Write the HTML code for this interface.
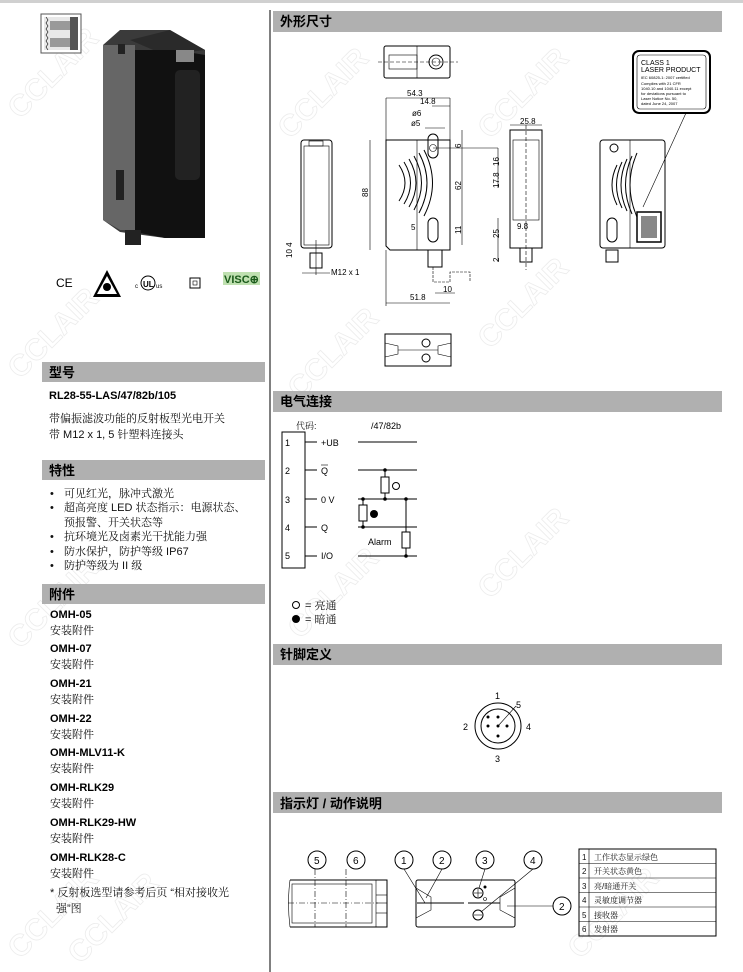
<!DOCTYPE html>
<html><head><meta charset="utf-8"><style>
html,body{margin:0;padding:0;background:#fff;}
svg{display:block;}
.h{font-family:"Liberation Sans","Noto Sans CJK SC",sans-serif;font-weight:bold;font-size:13px;fill:#000;}
.c{font-family:"Liberation Sans","Noto Serif CJK SC",serif;font-size:11px;fill:#111;}
.b{font-family:"Liberation Sans",sans-serif;font-weight:bold;font-size:11px;fill:#000;}
.s{font-family:"Liberation Sans",sans-serif;font-size:8px;fill:#000;}
.t{font-family:"Liberation Sans",sans-serif;font-size:10px;fill:#000;}
.wm{font-family:"Liberation Sans",sans-serif;font-size:30px;font-weight:bold;fill:none;stroke:#ececec;stroke-width:0.8;}
.ln{stroke:#000;fill:none;stroke-width:1;}
.th{stroke:#000;fill:none;stroke-width:0.6;}
</style></head><body>
<svg width="743" height="972" viewBox="0 0 743 972" xmlns="http://www.w3.org/2000/svg">
<rect x="0" y="0" width="743" height="3" fill="#d0d0d0"/>
<line x1="270" y1="10" x2="270" y2="972" stroke="#000" stroke-width="1"/>

<g>
<text class="wm" transform="translate(20,120) rotate(-45)">CCLAIR</text>
<text class="wm" transform="translate(20,380) rotate(-45)">CCLAIR</text>
<text class="wm" transform="translate(20,650) rotate(-45)">CCLAIR</text>
<text class="wm" transform="translate(20,960) rotate(-45)">CCLAIR</text>
<text class="wm" transform="translate(290,140) rotate(-45)">CCLAIR</text>
<text class="wm" transform="translate(300,400) rotate(-45)">CCLAIR</text>
<text class="wm" transform="translate(300,640) rotate(-45)">CCLAIR</text>
<text class="wm" transform="translate(490,140) rotate(-45)">CCLAIR</text>
<text class="wm" transform="translate(490,350) rotate(-45)">CCLAIR</text>
<text class="wm" transform="translate(490,600) rotate(-45)">CCLAIR</text>
<text class="wm" transform="translate(580,960) rotate(-45)">CCLAIR</text>
<text class="wm" transform="translate(80,965) rotate(-45)">CCLAIR</text>
</g>

<rect x="41" y="14" width="40" height="39" fill="#fff" stroke="#555" stroke-width="1"/>
<rect x="44" y="17" width="34" height="33" fill="#e8e8e8"/>
<rect x="70" y="17" width="8" height="33" fill="#555"/>
<rect x="50" y="21" width="20" height="9" fill="#999"/>
<rect x="50" y="38" width="20" height="9" fill="#999"/>
<polyline points="46,17 48,20 46,23 48,26 46,29 48,32 46,35 48,38 46,41 48,44 46,47 48,50" class="th"/>
<polygon points="103,45 120,30 170,30 205,50 205,238 165,238 120,232 103,220" fill="#3a3a3a"/>
<polygon points="103,45 135,45 135,230 120,230 103,220" fill="#666"/>
<polygon points="130,40 170,30 205,50 165,55" fill="#2a2a2a"/>
<polygon points="135,50 175,50 205,55 205,238 165,238 135,232" fill="#111"/>
<rect x="175" y="70" width="25" height="110" rx="5" fill="#222"/>
<rect x="176" y="50" width="18" height="12" fill="#888"/>
<rect x="116" y="170" width="8" height="30" fill="#222"/>
<rect x="118" y="44" width="7" height="10" fill="#222"/>
<rect x="125" y="230" width="16" height="15" fill="#222"/>
<text x="56" y="287" class="t" style="font-size:12px">CE</text>
<polygon points="107,270 93,297 121,297" fill="#000"/>
<polygon points="107,276 97,294 117,294" fill="#fff"/>
<circle cx="107" cy="287" r="4" fill="#000"/>
<text x="135" y="288" class="s" style="font-size:6px">c</text>
<circle cx="148" cy="283" r="7" fill="none" stroke="#000" stroke-width="1"/>
<text x="143" y="287" class="s" style="font-weight:bold">UL</text>
<text x="156" y="288" class="s" style="font-size:6px">us</text>
<rect x="190" y="278" width="10" height="10" class="ln"/>
<rect x="193" y="281" width="4" height="4" class="th"/>
<rect x="223" y="272" width="37" height="13" fill="#bfe0b0"/>
<text x="224" y="283" class="b" style="font-size:11px;fill:#1a5a1a">VISC⊕</text>

<rect x="42" y="362" width="223" height="20" fill="#b0b0b0"/>
<text x="49" y="377" class="h">型号</text>
<text x="49" y="399" class="b">RL28-55-LAS/47/82b/105</text>
<text x="49" y="422" class="c">带偏振滤波功能的反射板型光电开关</text>
<text x="49" y="438" class="c">带 M12 x 1, 5 针塑料连接头</text>

<rect x="42" y="460" width="223" height="20" fill="#b0b0b0"/>
<text x="49" y="475" class="h">特性</text>
<g class="c">
<text x="50" y="497">•</text><text x="64" y="497">可见红光，脉冲式激光</text>
<text x="50" y="511">•</text><text x="64" y="511">超高亮度 LED 状态指示：电源状态、</text>
<text x="64" y="526">预报警、开关状态等</text>
<text x="50" y="540">•</text><text x="64" y="540">抗环境光及卤素光干扰能力强</text>
<text x="50" y="555">•</text><text x="64" y="555">防水保护，防护等级 IP67</text>
<text x="50" y="569">•</text><text x="64" y="569">防护等级为 II 级</text>
</g>

<rect x="42" y="584" width="223" height="20" fill="#b0b0b0"/>
<text x="49" y="599" class="h">附件</text>
<g>
<text x="50" y="618" class="b">OMH-05</text><text x="50" y="634" class="c">安装附件</text>
<text x="50" y="652" class="b">OMH-07</text><text x="50" y="668" class="c">安装附件</text>
<text x="50" y="687" class="b">OMH-21</text><text x="50" y="703" class="c">安装附件</text>
<text x="50" y="722" class="b">OMH-22</text><text x="50" y="738" class="c">安装附件</text>
<text x="50" y="756" class="b">OMH-MLV11-K</text><text x="50" y="772" class="c">安装附件</text>
<text x="50" y="791" class="b">OMH-RLK29</text><text x="50" y="807" class="c">安装附件</text>
<text x="50" y="826" class="b">OMH-RLK29-HW</text><text x="50" y="842" class="c">安装附件</text>
<text x="50" y="861" class="b">OMH-RLK28-C</text><text x="50" y="877" class="c">安装附件</text>
<text x="50" y="896" class="c">* 反射板选型请参考后页 “相对接收光</text>
<text x="56" y="912" class="c">强”图</text>
</g>

<rect x="273" y="11" width="449" height="21" fill="#b0b0b0"/>
<text x="280" y="26" class="h">外形尺寸</text>

<rect x="384" y="46" width="66" height="32" rx="2" class="ln"/>
<line x1="417" y1="46" x2="417" y2="78" class="th"/>
<rect x="389" y="55" width="28" height="14" class="th"/>
<circle cx="436" cy="62" r="7" class="ln"/>
<circle cx="436" cy="62" r="4" class="th"/>
<line x1="378" y1="62" x2="458" y2="62" class="th" stroke-dasharray="4,2"/>

<path d="M386,140 H450 V250 H390 L386,246 Z" class="ln"/>
<line x1="417" y1="140" x2="417" y2="250" class="th"/>
<line x1="386" y1="98" x2="386" y2="140" class="th"/>
<line x1="450" y1="98" x2="450" y2="140" class="th"/>
<line x1="386" y1="98" x2="450" y2="98" class="th"/>
<text x="407" y="96" class="s">54.3</text>
<line x1="432" y1="106" x2="450" y2="106" class="th"/>
<text x="420" y="104" class="s">14.8</text>
<text x="412" y="116" class="s">ø6</text>
<text x="411" y="126" class="s">ø5</text>
<line x1="425" y1="128" x2="445" y2="128" class="th"/>
<rect x="428" y="134" width="10" height="24" rx="5" class="ln"/>
<circle cx="433" cy="148" r="3.5" class="th"/>
<rect x="428" y="218" width="10" height="24" rx="5" class="ln"/>
<path d="M399,165 q12,18 0,36 M404,162 q13,21 0,42 M409,159 q14,24 0,48 M414,156 q15,27 0,54 M419,153 q16,30 0,60 M424,150 q17,33 0,66" class="ln"/>
<line x1="370" y1="140" x2="370" y2="250" class="th"/>
<text x="368" y="197" class="s" transform="rotate(-90 368 197)">88</text>
<line x1="462" y1="130" x2="462" y2="245" class="th"/>
<text x="461" y="148" class="s" transform="rotate(-90 461 148)">6</text>
<text x="461" y="190" class="s" transform="rotate(-90 461 190)">62</text>
<text x="461" y="234" class="s" transform="rotate(-90 461 234)">11</text>
<line x1="433" y1="148" x2="498" y2="148" class="th"/>
<text x="411" y="230" class="s">5</text>
<rect x="428" y="250" width="14" height="17" class="ln"/>
<path d="M433,267 V282 H450 V272 H470 V282" class="th" stroke-dasharray="3,1"/>
<line x1="386" y1="250" x2="386" y2="306" class="th"/>
<line x1="386" y1="303" x2="450" y2="303" class="th"/>
<text x="410" y="300" class="s">51.8</text>
<line x1="435" y1="293" x2="455" y2="293" class="th"/>
<text x="443" y="292" class="s">10</text>

<rect x="301" y="140" width="31" height="108" rx="3" class="ln"/>
<rect x="304" y="146" width="25" height="99" class="th"/>
<rect x="309" y="141" width="14" height="5" class="th"/>
<rect x="310" y="253" width="12" height="15" class="ln"/>
<line x1="316" y1="240" x2="316" y2="275" class="th"/>
<text x="292" y="258" class="s" transform="rotate(-90 292 258)">10  4</text>
<line x1="302" y1="273" x2="330" y2="273" class="th"/>
<text x="331" y="275" class="s">M12 x 1</text>

<rect x="510" y="130" width="32" height="118" class="ln"/>
<rect x="513" y="140" width="26" height="80" class="th"/>
<line x1="526" y1="125" x2="526" y2="270" class="th" stroke-dasharray="4,2"/>
<line x1="510" y1="125" x2="542" y2="125" class="th"/>
<text x="520" y="124" class="s">25.8</text>
<rect x="520" y="248" width="12" height="14" class="ln"/>
<text x="517" y="229" class="s">9.8</text>
<text x="499" y="166" class="s" transform="rotate(-90 499 166)">16</text>
<text x="499" y="188" class="s" transform="rotate(-90 499 188)">17.8</text>
<text x="499" y="238" class="s" transform="rotate(-90 499 238)">25</text>
<text x="499" y="262" class="s" transform="rotate(-90 499 262)">2</text>
<line x1="498" y1="148" x2="498" y2="188" class="th"/>
<line x1="498" y1="218" x2="498" y2="262" class="th"/>

<rect x="600" y="140" width="65" height="108" rx="3" class="ln"/>
<line x1="630" y1="140" x2="630" y2="248" class="th"/>
<circle cx="614" cy="148" r="4" class="ln"/>
<path d="M617,165 q-10,20 0,40 M622,162 q-11,23 0,46 M627,159 q-12,26 0,52 M632,156 q-13,29 0,58 M637,153 q-14,32 0,64" class="ln"/>
<rect x="607" y="218" width="10" height="24" rx="5" class="ln"/>
<rect x="637" y="212" width="24" height="30" fill="#fff" stroke="#000" stroke-width="1.5"/>
<rect x="641" y="216" width="16" height="22" fill="#888"/>
<rect x="606" y="250" width="12" height="12" class="ln"/>
<line x1="643" y1="207" x2="686" y2="113" class="th"/>
<rect x="633" y="51" width="77" height="62" rx="6" fill="#fff" stroke="#000" stroke-width="2"/>
<rect x="637" y="55" width="69" height="54" rx="3" class="th"/>
<text x="641" y="65" class="s" style="font-size:7px">CLASS 1</text>
<text x="641" y="72" class="s" style="font-size:7px">LASER PRODUCT</text>
<text x="641" y="79" class="s" style="font-size:4px">IEC 60825-1: 2007 certified</text>
<text x="641" y="85" class="s" style="font-size:4px">Complies with 21 CFR</text>
<text x="641" y="90" class="s" style="font-size:4px">1040.10 and 1040.11 except</text>
<text x="641" y="95" class="s" style="font-size:4px">for deviations pursuant to</text>
<text x="641" y="100" class="s" style="font-size:4px">Laser Notice No. 50,</text>
<text x="641" y="105" class="s" style="font-size:4px">dated June 24, 2007</text>

<rect x="385" y="334" width="66" height="32" class="ln"/>
<path d="M385,343 L398,346 V354 L385,357 M451,343 L438,346 V354 L451,357 M398,350 H438" class="th"/>
<circle cx="426" cy="343" r="4" class="ln"/>
<circle cx="426" cy="358" r="4" class="ln"/>

<rect x="273" y="391" width="449" height="21" fill="#b0b0b0"/>
<text x="280" y="406" class="h">电气连接</text>
<text x="296" y="429" class="c" style="font-size:9px">代码:</text>
<text x="371" y="429" class="t" style="font-size:9px">/47/82b</text>
<rect x="282" y="432" width="23" height="136" class="ln"/>
<g class="t" style="font-size:9px">
<text x="285" y="446">1</text><text x="285" y="474">2</text><text x="285" y="503">3</text><text x="285" y="531">4</text><text x="285" y="559">5</text>
<text x="321" y="446">+UB</text><text x="321" y="474">Q</text><text x="321" y="503">0 V</text><text x="321" y="531">Q</text><text x="321" y="559">I/O</text>
<text x="368" y="545">Alarm</text>
</g>
<line x1="321" y1="465" x2="328" y2="465" class="th"/>
<g class="ln">
<line x1="305" y1="442" x2="317" y2="442"/><line x1="305" y1="470" x2="317" y2="470"/><line x1="305" y1="499" x2="317" y2="499"/><line x1="305" y1="527" x2="317" y2="527"/><line x1="305" y1="556" x2="317" y2="556"/>
<line x1="358" y1="442" x2="417" y2="442"/><line x1="358" y1="470" x2="417" y2="470"/><line x1="358" y1="499" x2="417" y2="499"/><line x1="358" y1="527" x2="417" y2="527"/><line x1="358" y1="556" x2="417" y2="556"/>
<line x1="385" y1="470" x2="385" y2="499"/>
<line x1="363" y1="499" x2="363" y2="527"/>
<line x1="406" y1="499" x2="406" y2="556"/>
</g>
<rect x="381" y="477" width="8" height="16" fill="#fff" stroke="#000"/>
<rect x="359" y="505" width="8" height="16" fill="#fff" stroke="#000"/>
<rect x="402" y="532" width="8" height="16" fill="#fff" stroke="#000"/>
<circle cx="396" cy="486" r="3.5" class="ln"/>
<circle cx="374" cy="514" r="4" fill="#000"/>
<g fill="#000"><circle cx="385" cy="470" r="1.8"/><circle cx="385" cy="499" r="1.8"/><circle cx="363" cy="499" r="1.8"/><circle cx="363" cy="527" r="1.8"/><circle cx="406" cy="499" r="1.8"/><circle cx="406" cy="556" r="1.8"/></g>
<circle cx="296" cy="605" r="3.5" class="ln"/>
<text x="305" y="609" class="c">= 亮通</text>
<circle cx="296" cy="619" r="4" fill="#000"/>
<text x="305" y="623" class="c">= 暗通</text>

<rect x="273" y="644" width="449" height="21" fill="#b0b0b0"/>
<text x="280" y="659" class="h">针脚定义</text>
<circle cx="498" cy="726" r="23" class="ln"/>
<circle cx="498" cy="726" r="17" class="ln"/>
<g fill="#000"><circle cx="488" cy="717" r="1.5"/><circle cx="498" cy="717" r="1.5"/><circle cx="488" cy="726" r="1.5"/><circle cx="498" cy="726" r="1.5"/><circle cx="507" cy="726" r="1.5"/><circle cx="498" cy="736" r="1.5"/></g>
<line x1="498" y1="726" x2="516" y2="706" class="th"/>
<g class="t" style="font-size:9px">
<text x="495" y="699">1</text><text x="516" y="708">5</text><text x="463" y="730">2</text><text x="526" y="730">4</text><text x="495" y="762">3</text>
</g>

<rect x="273" y="792" width="449" height="21" fill="#b0b0b0"/>
<text x="280" y="808" class="h">指示灯 / 动作说明</text>
<path d="M290,880 H387 V927 H290" class="ln"/>
<path d="M290,880 q-3,23 0,47" class="th"/>
<rect x="292" y="884" width="80" height="39" class="th"/>
<line x1="376" y1="880" x2="376" y2="927" class="th"/>
<line x1="376" y1="895" x2="387" y2="895" class="th"/><line x1="376" y1="903" x2="387" y2="903" class="th"/><line x1="376" y1="913" x2="387" y2="913" class="th"/>
<line x1="288" y1="903" x2="378" y2="903" class="th" stroke-dasharray="6,2,1,2"/>
<line x1="315" y1="869" x2="315" y2="927" class="th" stroke-dasharray="6,2,1,2"/>
<line x1="346" y1="869" x2="346" y2="927" class="th" stroke-dasharray="6,2,1,2"/>
<circle cx="317" cy="860" r="9" class="ln" fill="#fff"/><text x="314" y="864" class="t">5</text>
<circle cx="356" cy="860" r="9" class="ln" fill="#fff"/><text x="353" y="864" class="t">6</text>
<rect x="416" y="880" width="99" height="47" rx="2" class="ln"/>
<path d="M416,888 L431,897 V910 L416,918 M515,888 L500,897 V910 L515,918" class="th"/>
<line x1="417" y1="903" x2="464" y2="903" class="ln"/>
<line x1="468" y1="903" x2="500" y2="903" class="ln"/>
<circle cx="478" cy="893" r="5" class="ln"/>
<line x1="474" y1="893" x2="482" y2="893" class="th"/><line x1="478" y1="889" x2="478" y2="897" class="th"/>
<circle cx="478" cy="915" r="5" class="ln"/>
<line x1="474" y1="915" x2="482" y2="915" class="th"/>
<circle cx="485" cy="887" r="1.5" fill="#000"/><circle cx="485" cy="899" r="1.5" class="th"/>
<line x1="404" y1="869" x2="425" y2="903" class="th"/>
<line x1="442" y1="869" x2="426" y2="898" class="th"/>
<line x1="485" y1="869" x2="479" y2="888" class="th"/>
<line x1="533" y1="869" x2="481" y2="912" class="th"/>
<line x1="507" y1="906" x2="553" y2="906" class="th"/>
<g>
<circle cx="404" cy="860" r="9" class="ln" fill="#fff"/><text x="401" y="864" class="t">1</text>
<circle cx="442" cy="860" r="9" class="ln" fill="#fff"/><text x="439" y="864" class="t">2</text>
<circle cx="485" cy="860" r="9" class="ln" fill="#fff"/><text x="482" y="864" class="t">3</text>
<circle cx="533" cy="860" r="9" class="ln" fill="#fff"/><text x="530" y="864" class="t">4</text>
<circle cx="562" cy="906" r="9" class="ln" fill="#fff"/><text x="559" y="910" class="t">2</text>
</g>
<rect x="579" y="849" width="137" height="87" class="ln"/>
<line x1="589" y1="849" x2="589" y2="936" class="th"/>
<g class="th">
<line x1="579" y1="863.5" x2="716" y2="863.5"/><line x1="579" y1="878" x2="716" y2="878"/><line x1="579" y1="892.5" x2="716" y2="892.5"/><line x1="579" y1="907" x2="716" y2="907"/><line x1="579" y1="921.5" x2="716" y2="921.5"/>
</g>
<g class="c" style="font-size:8px">
<text x="582" y="860">1</text><text x="594" y="860">工作状态显示绿色</text>
<text x="582" y="874">2</text><text x="594" y="874">开关状态黄色</text>
<text x="582" y="889">3</text><text x="594" y="889">亮/暗通开关</text>
<text x="582" y="903">4</text><text x="594" y="903">灵敏度调节器</text>
<text x="582" y="918">5</text><text x="594" y="918">接收器</text>
<text x="582" y="932">6</text><text x="594" y="932">发射器</text>
</g>
</svg>
</body></html>
